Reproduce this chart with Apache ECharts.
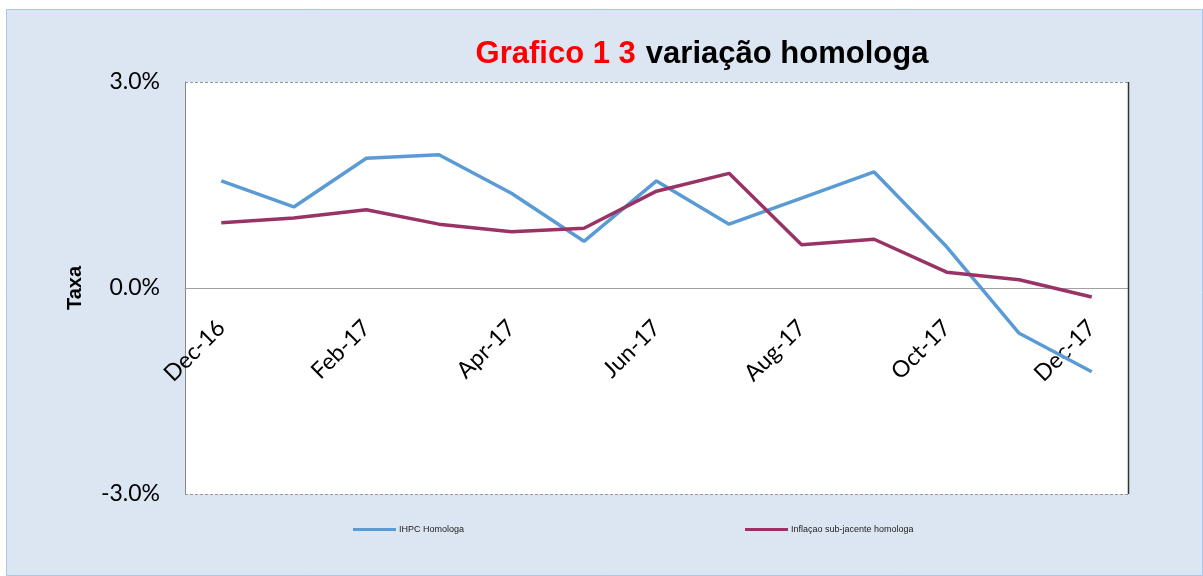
<!DOCTYPE html>
<html>
<head>
<meta charset="utf-8">
<script src="https://cdn.jsdelivr.net/npm/echarts@6/dist/echarts.min.js"></script>
<style>
html,body{margin:0;padding:0;background:#fff;}
#c{width:1203px;height:576px;}
</style>
</head>
<body>
<div id="c"></div>
<script>
const categories = ['Dec-16','Jan-17','Feb-17','Mar-17','Apr-17','May-17','Jun-17','Jul-17','Aug-17','Sep-17','Oct-17','Nov-17','Dec-17'];
const ihpc = [1.56, 1.18, 1.89, 1.94, 1.38, 0.68, 1.56, 0.93, 1.31, 1.69, 0.60, -0.66, -1.22];
const subjacente = [0.95, 1.02, 1.14, 0.93, 0.82, 0.87, 1.41, 1.67, 0.63, 0.71, 0.23, 0.12, -0.13];
const yTicks = [-3, 0, 3];

const chart = echarts.init(document.getElementById('c'));
chart.setOption({
  backgroundColor: '#fff',
  animation: false,
  graphic: [{
    type: 'rect', z: -10, silent: true,
    shape: { x: 6.5, y: 9.5, width: 1196, height: 566 },
    style: { fill: '#DCE6F2', stroke: '#A6C8F0', lineWidth: 1 }
  }, {
    type: 'line', z: 100, silent: true,
    shape: { x1: 1128.5, y1: 82, x2: 1128.5, y2: 494 },
    style: { stroke: '#333', lineWidth: 1.5 }
  }],
  title: {
    text: '{r|Grafico 1 3}  {b|variação homologa}',
    left: 697, top: 34, textAlign: 'center',
    textStyle: {
      rich: {
        r: { color: '#FF0000', fontSize: 31, fontWeight: 'bold', fontFamily: 'Liberation Sans, Arial' },
        b: { color: '#000', fontSize: 31, fontWeight: 'bold', fontFamily: 'Liberation Sans, Arial' }
      }
    }
  },
  legend: {
    top: 520, left: 348, itemGap: 281,
    itemWidth: 43, itemHeight: 3, icon: 'rect',
    textStyle: { fontSize: 9, color: '#222', fontFamily: 'Liberation Sans Narrow, Liberation Sans, Arial', padding: [0,0,0,-2] },
    data: ['IHPC Homologa', 'Inflaçao sub-jacente homologa']
  },
  grid: { left: 185, right: 75, top: 82, bottom: 82, show: true, backgroundColor: '#fff', borderWidth: 0 },
  xAxis: {
    type: 'category', data: categories, boundaryGap: true,
    offset: -206,
    axisLine: { onZero: false, lineStyle: { color: '#A0A0A0', width: 1 } },
    axisTick: { show: false },
    axisLabel: { interval: 1, rotate: 45, fontSize: 23, color: '#000', fontFamily: 'Lato, Open Sans, sans-serif', margin: 36 },
    splitLine: { show: false }
  },
  yAxis: {
    type: 'value', min: -3, max: 3, interval: 3,
    name: 'Taxa', nameLocation: 'middle', nameGap: 100, nameRotate: 90,
    nameTextStyle: { fontSize: 20, fontWeight: 'bold', color: '#000', fontFamily: 'Liberation Sans, Arial' },
    axisLine: { show: true, lineStyle: { color: '#888', width: 1 } },
    axisTick: { show: false },
    axisLabel: { fontSize: 23, color: '#000', margin: 25, fontFamily: 'Lato, Open Sans, sans-serif', formatter: v => v.toFixed(1) + '%' },
    splitLine: { show: true, lineStyle: { color: '#999', type: [3, 2], width: 1 } }
  },
  series: [
    { name: 'IHPC Homologa', type: 'line', data: ihpc, symbol: 'none', lineStyle: { color: '#5B9BD5', width: 3.5 }, itemStyle: { color: '#5B9BD5' } },
    { name: 'Inflaçao sub-jacente homologa', type: 'line', data: subjacente, symbol: 'none', lineStyle: { color: '#993366', width: 3.5 }, itemStyle: { color: '#993366' } }
  ]
});
</script>
</body>
</html>
